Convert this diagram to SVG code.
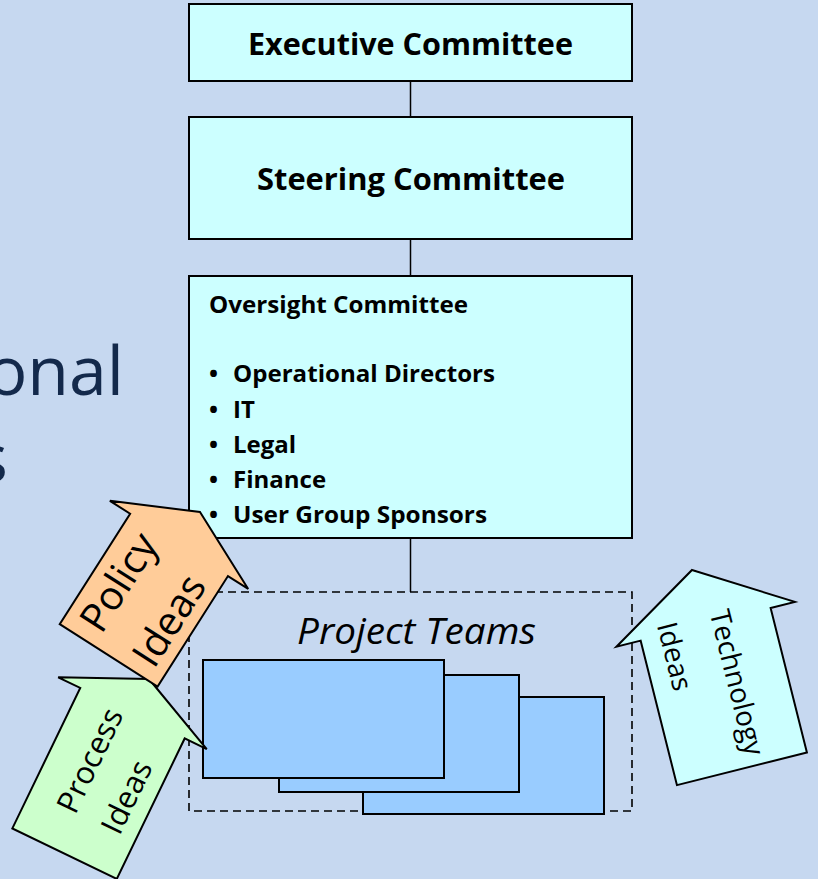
<svg xmlns="http://www.w3.org/2000/svg" width="818" height="879" viewBox="0 0 818 879">
  <defs>
    <style>
      .bg { fill: #C6D8F0; }
      .box { fill: #CCFFFF; stroke: #000; stroke-width: 2; }
      .team { fill: #99CCFF; stroke: #000; stroke-width: 2; }
      .link { stroke: #000; stroke-width: 1.5; fill: none; }
      .group { fill: none; stroke: #000; stroke-width: 1.6; stroke-dasharray: 8 5; }
      .arrow { stroke: #000; stroke-width: 2; stroke-linejoin: miter; }
      .title { font-family: "Open Sans", "Noto Sans", sans-serif; font-weight: bold; fill: #000; }
      .item { font-family: "Open Sans", "Noto Sans", sans-serif; font-weight: bold; font-size: 24px; fill: #000; }
      .label { font-family: "Open Sans", "Noto Sans", sans-serif; fill: #000; text-anchor: middle; }
      .heading { font-family: "Open Sans", "Noto Sans", sans-serif; fill: #13294B; font-size: 68px; text-anchor: end; }
    </style>
  </defs>

  <rect class="bg" x="0" y="0" width="818" height="879"/>

  <!-- slide heading fragments -->
  <g id="heading">
    <text class="heading" x="124" y="395">onal</text>
    <text class="heading" x="8" y="482">s</text>
  </g>

  <!-- connectors -->
  <g id="connectors">
    <line class="link" x1="410.5" y1="81" x2="410.5" y2="117"/>
    <line class="link" x1="410.5" y1="239" x2="410.5" y2="276"/>
    <line class="link" x1="410.5" y1="538" x2="410.5" y2="592"/>
  </g>

  <g id="executive">
    <rect class="box" x="189" y="4" width="443" height="77"/>
    <text class="title" x="248" y="55" font-size="30.5" textLength="325" lengthAdjust="spacingAndGlyphs">Executive Committee</text>
  </g>

  <g id="steering">
    <rect class="box" x="189" y="117" width="443" height="122"/>
    <text class="title" x="257" y="190" font-size="30.5" textLength="308" lengthAdjust="spacingAndGlyphs">Steering Committee</text>
  </g>

  <g id="oversight">
    <rect class="box" x="189" y="276" width="443" height="262"/>
    <text class="item" x="209" y="313" textLength="259" lengthAdjust="spacingAndGlyphs">Oversight Committee</text>
    <g class="item">
      <text x="209" y="382">•</text><text x="233" y="382" textLength="262" lengthAdjust="spacingAndGlyphs">Operational Directors</text>
      <text x="209" y="418">•</text><text x="233" y="418">IT</text>
      <text x="209" y="453">•</text><text x="233" y="453">Legal</text>
      <text x="209" y="488">•</text><text x="233" y="488">Finance</text>
      <text x="209" y="523">•</text><text x="233" y="523" textLength="254" lengthAdjust="spacingAndGlyphs">User Group Sponsors</text>
    </g>
  </g>

  <g id="project-teams">
    <rect class="group" x="189" y="592" width="443" height="219"/>
    <text class="label" x="416.5" y="644" font-size="37" font-style="italic" textLength="239" lengthAdjust="spacingAndGlyphs">Project Teams</text>
    <rect class="team" x="363" y="697" width="241" height="117"/>
    <rect class="team" x="279" y="675" width="240" height="117"/>
    <rect class="team" x="203" y="660" width="241" height="118"/>
  </g>

  <!-- idea arrows: local frame has the tip at the origin, pointing up -->
  <g id="process-ideas" transform="translate(149 679) rotate(25.8)">
    <polygon class="arrow" fill="#CCFFCC" points="0,0 82.5,38 58,38 58,194 -58,194 -58,38 -82.5,38"/>
    <text class="label" font-size="31" transform="translate(-7 99) rotate(-90)">Process</text>
    <text class="label" font-size="31" transform="translate(42 116) rotate(-90)">Ideas</text>
  </g>

  <g id="policy-ideas" transform="translate(200 512) rotate(32.5)">
    <polygon class="arrow" fill="#FFCC99" points="0,0 82,39 58,39 58,170 -58,170 -58,39 -82,39"/>
    <text class="label" font-size="40" transform="translate(-17 103) rotate(-90)">Policy</text>
    <text class="label" font-size="40" transform="translate(46 108) rotate(-90)">Ideas</text>
  </g>

  <g id="technology-ideas" transform="translate(692 570) rotate(-14.1)">
    <polygon class="arrow" fill="#CCFFFF" points="0,0 92,56 67,56 67,205 -67,205 -67,56 -92,56"/>
    <text class="label" font-size="28" transform="translate(6.5 120) rotate(90)">Technology</text>
    <text class="label" font-size="28" transform="translate(-47.5 79.5) rotate(90)">Ideas</text>
  </g>
</svg>
